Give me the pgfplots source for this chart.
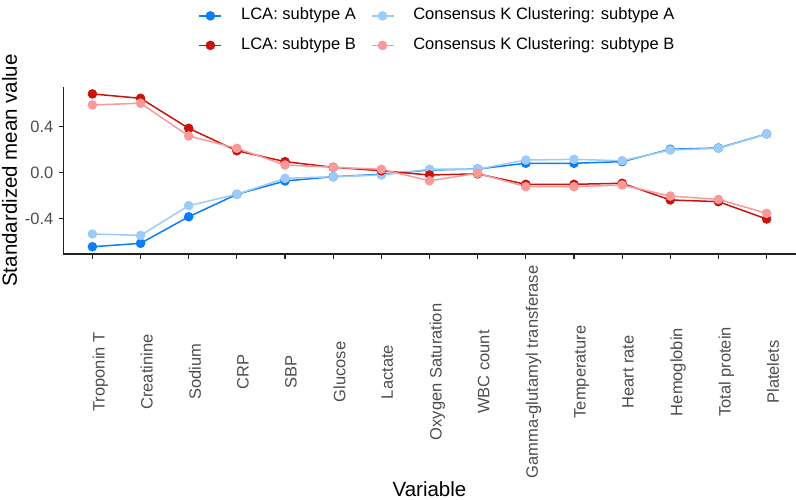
\documentclass[border=0pt]{standalone}
\usepackage{pgfplots}
\pgfplotsset{compat=1.18}
\usepackage{pgfplotstable}
\usepackage{fontspec}
\setmainfont{Liberation Sans}
\definecolor{lcaA}{HTML}{0A7DFA}
\definecolor{ckA}{HTML}{9CCBF7}
\definecolor{lcaB}{HTML}{C8140C}
\definecolor{ckB}{HTML}{F89A9A}
\definecolor{tickgray}{HTML}{4D4D4D}
\definecolor{axisgray}{HTML}{222222}
\pgfplotstableread{
x lcaA ckA lcaB ckB
1  -0.644 -0.533  0.685  0.589
2  -0.614 -0.545  0.647  0.604
3  -0.383 -0.287  0.386  0.319
4  -0.188 -0.188  0.191  0.212
5  -0.072 -0.049  0.096  0.067
6  -0.035 -0.035  0.047  0.047
7  -0.014 -0.020  0.017  0.030
8   0.023  0.030 -0.020 -0.070
9   0.032  0.030 -0.010 -0.005
10  0.082  0.110 -0.101 -0.122
11  0.082  0.116 -0.101 -0.122
12  0.096  0.104 -0.092 -0.107
13  0.204  0.197 -0.237 -0.203
14  0.215  0.212 -0.252 -0.232
15  0.337  0.337 -0.403 -0.353
}\datatable
\begin{document}
\begin{tikzpicture}
\path[use as bounding box] (0,0) rectangle (796pt,500pt);
\begin{axis}[
  at={(63.5pt,246pt)}, anchor=south west,
  scale only axis, width=732pt, height=167.3pt,
  xmin=0.4, xmax=15.6, ymin=-0.707, ymax=0.748,
  axis lines=left, axis line style={-, line width=1.2pt, color=axisgray},
  tick align=outside, major tick length=5pt,
  tick style={line width=1.1pt, color=axisgray},
  xtick={1,...,15},
  xticklabels={Troponin T,Creatinine,Sodium,CRP,SBP,Glucose,Lactate,Oxygen Saturation,WBC count,Gamma-glutamyl transferase,Temperature,Heart rate,Hemoglobin,Total protein,Platelets},
  ytick={-0.4,0,0.4},
  yticklabels={-0.4,0.0,0.4},
  xticklabel style={rotate=90, anchor=north, inner sep=0pt, font=\fontsize{16.5}{18}\selectfont, text=tickgray},
  xticklabel shift=113pt,
  yticklabel style={anchor=east, inner sep=0pt, font=\fontsize{16.5}{18}\selectfont, text=tickgray},
  yticklabel shift=5pt,
  /pgf/number format/assume math mode=true,
  clip=false,
  legend columns=2,
  legend cell align=left,
  legend style={draw=none, fill=none, at={(axis description cs:0.5096,1.335)}, anchor=center,
    font=\fontsize{16.5}{18}\selectfont,
    nodes={inner sep=0pt, text height=12pt, text depth=4pt},
    row sep=13.5pt,
    /tikz/every odd column/.append style={column sep=19pt},
    /tikz/every even column/.append style={column sep=15pt}},
  legend image code/.code={\draw[mark repeat=2, mark phase=2, #1] plot coordinates {(0pt,0pt) (11pt,0pt) (22pt,0pt)};},
]
\addplot[lcaA, line width=1.5pt, mark=*, mark size=4pt] table[x=x, y=lcaA] {\datatable};
\addlegendentry{LCA: subtype A}
\addplot[ckA, line width=1.5pt, mark=*, mark size=4pt] table[x=x, y=ckA] {\datatable};
\addlegendentry{Consensus K Clustering: subtype A}
\addplot[lcaB, line width=1.5pt, mark=*, mark size=4pt] table[x=x, y=lcaB] {\datatable};
\addlegendentry{LCA: subtype B}
\addplot[ckB, line width=1.5pt, mark=*, mark size=4pt] table[x=x, y=ckB] {\datatable};
\addlegendentry{Consensus K Clustering: subtype B}
\end{axis}
\node[rotate=90, font=\fontsize{20.5}{22}\selectfont] at (9.5pt,329.5pt) {Standardized mean value};
\node[anchor=base, font=\fontsize{20.5}{22}\selectfont] at (429.5pt,3.5pt) {Variable};
\end{tikzpicture}
\end{document}
